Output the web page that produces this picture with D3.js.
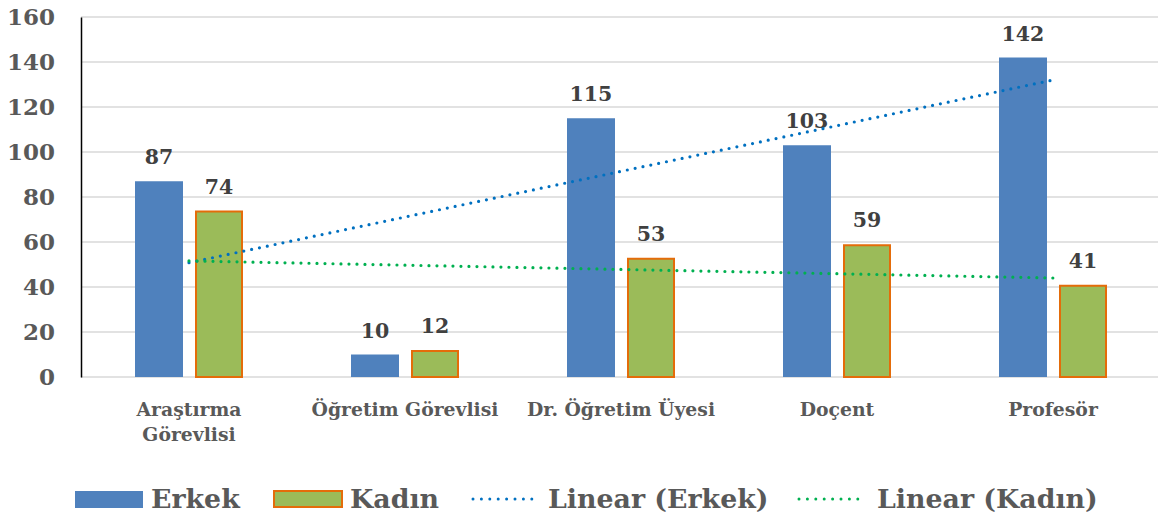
<!DOCTYPE html>
<html><head><meta charset="utf-8">
<script src="https://cdn.jsdelivr.net/npm/d3@7"></script>
<style>body{margin:0;background:#fff}svg{display:block}</style>
</head><body>
<svg id="c" width="1158" height="520"></svg>
<script>
const categories = [["Araştırma","Görevlisi"],["Öğretim Görevlisi"],["Dr. Öğretim Üyesi"],["Doçent"],["Profesör"]];
const seriesNames = ["Erkek","Kadın"];
const erkek = [87,10,115,103,142];
const kadin = [74,12,53,59,41];
const yTicks = [0,20,40,60,80,100,120,140,160];
const legendLabels = ["Erkek","Kadın","Linear (Erkek)","Linear (Kadın)"];

(function(){
const svg = d3.select("#c");
const W = 1158, pLeft = 81, pTop = 17, pBottom = 377;
const catKeys = categories.map(c => c.join(" "));
const x = d3.scaleBand().domain(catKeys).range([pLeft, 1161]).paddingInner(0).paddingOuter(0);
const x1 = d3.scaleBand().domain(seriesNames).range([54, 162]).paddingInner(0.2);
const y = d3.scaleLinear().domain([0,160]).range([pBottom, pTop]);
const colors = {Erkek:"#4f81bd", Kadın:"#9bbb59"};
const serif = "'DejaVu Serif', serif";

// gridlines
svg.append("g").selectAll("line").data(yTicks).join("line")
  .attr("x1", pLeft).attr("x2", W).attr("y1", d => y(d)).attr("y2", d => y(d))
  .attr("stroke", "#d9d9d9").attr("stroke-width", 1.5);

// y axis
const ya = svg.append("g").attr("transform", `translate(${pLeft},0)`)
  .call(d3.axisLeft(y).tickValues(yTicks).tickSize(0).tickPadding(26));
ya.select(".domain").attr("stroke", "#000").attr("stroke-width", 1.5);
ya.selectAll("text").attr("font-family", serif).attr("font-weight", "bold")
  .attr("font-size", 23).attr("fill", "#595959");

// bars
const data = catKeys.map((k,i) => ({k, vals:[{s:"Erkek", v:erkek[i]},{s:"Kadın", v:kadin[i]}]}));
const g = svg.append("g").selectAll("g").data(data).join("g")
  .attr("transform", d => `translate(${x(d.k)},0)`);
g.selectAll("rect").data(d => d.vals).join("rect")
  .attr("x", d => x1(d.s) + (d.s==="Kadın" ? 1 : 0))
  .attr("width", d => x1.bandwidth() - (d.s==="Kadın" ? 2 : 0))
  .attr("y", d => y(d.v) + (d.s==="Kadın" ? 1 : 0))
  .attr("height", d => pBottom - y(d.v) - (d.s==="Kadın" ? 1 : 0))
  .attr("fill", d => colors[d.s])
  .attr("stroke", d => d.s==="Kadın" ? "#e46c0a" : "none")
  .attr("stroke-width", 2);
g.selectAll("text").data(d => d.vals).join("text")
  .attr("x", d => x1(d.s) + x1.bandwidth()/2)
  .attr("y", d => y(d.v) - 17)
  .attr("text-anchor", "middle")
  .attr("font-family", serif).attr("font-weight", "bold").attr("font-size", 20.5)
  .attr("fill", "#404040").text(d => d.v);

// trendlines (least squares on category index)
function trend(vals){
  const n = vals.length, xs = vals.map((_,i)=>i+1);
  const mx = d3.mean(xs), my = d3.mean(vals);
  const b = d3.sum(xs.map((xi,i)=>(xi-mx)*(vals[i]-my))) / d3.sum(xs.map(xi=>(xi-mx)**2));
  const a = my - b*mx;
  return [{i:0, v:a+b*1},{i:n-1, v:a+b*n}];
}
const line = d3.line().x(d => x(catKeys[d.i]) + x.bandwidth()/2).y(d => y(d.v));
[[erkek,"#0070c0"],[kadin,"#00b050"]].forEach(([vals,c]) => {
  svg.append("path").attr("d", line(trend(vals))).attr("fill","none")
    .attr("stroke", c).attr("stroke-width", 3.2).attr("stroke-linecap","round")
    .attr("stroke-dasharray","0 8");
});

// category labels
const xl = svg.append("g").selectAll("text").data(categories).join("text")
  .attr("x", (d,i) => x(catKeys[i]) + x.bandwidth()/2)
  .attr("y", 416).attr("text-anchor","middle")
  .attr("font-family", serif).attr("font-weight","bold").attr("font-size", 18.8)
  .attr("fill","#595959");
xl.selectAll("tspan").data(d => d).join("tspan")
  .attr("x", function(){ return this.parentNode.getAttribute("x"); })
  .attr("dy", (d,i) => i ? 25 : 0).text(d => d);

// legend
const ly = 499;
const leg = svg.append("g");
leg.append("rect").attr("x",75).attr("y",491).attr("width",68).attr("height",17).attr("fill",colors.Erkek);
leg.append("rect").attr("x",274).attr("y",491).attr("width",68).attr("height",16).attr("fill",colors.Kadın)
  .attr("stroke","#e46c0a").attr("stroke-width",2);
leg.append("line").attr("x1",473).attr("x2",540).attr("y1",ly).attr("y2",ly)
  .attr("stroke","#0070c0").attr("stroke-width",3).attr("stroke-linecap","round").attr("stroke-dasharray","0 8.4");
leg.append("line").attr("x1",799).attr("x2",866).attr("y1",ly).attr("y2",ly)
  .attr("stroke","#00b050").attr("stroke-width",3).attr("stroke-linecap","round").attr("stroke-dasharray","0 8.4");
const lx = [151, 350, 548, 877];
leg.selectAll("text").data(legendLabels).join("text")
  .attr("x", (d,i) => lx[i]).attr("y", 508)
  .attr("font-family", serif).attr("font-weight","bold").attr("font-size", 26.8)
  .attr("fill","#595959").text(d => d);
})();
</script>
</body></html>
